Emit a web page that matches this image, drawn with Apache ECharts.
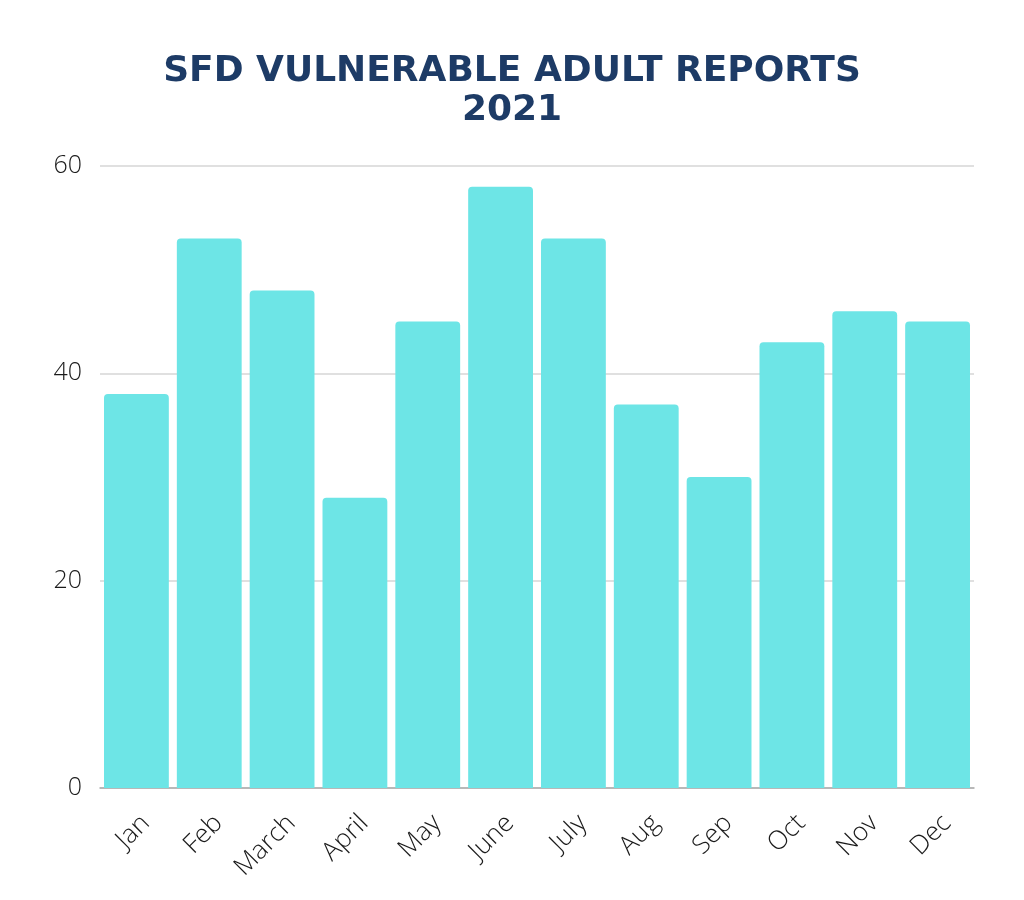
<!DOCTYPE html>
<html><head><meta charset="utf-8">
<script src="https://cdn.jsdelivr.net/npm/echarts@6/dist/echarts.min.js"></script>
<style>html,body{margin:0;padding:0;background:#fff}#c{width:1024px;height:900px}</style>
</head><body><div id="c"></div>
<script>
const categories = ['Jan','Feb','March','April','May','June','July','Aug','Sep','Oct','Nov','Dec'];
const reports = [38,53,48,28,45,58,53,37,30,43,46,45];
const yTicks = [0,20,40,60];

const chart = echarts.init(document.getElementById('c'));
chart.setOption({
  backgroundColor:'#ffffff',
  title:{
    text:'SFD VULNERABLE ADULT REPORTS\n2021',
    left:'center', top:47,
    textStyle:{fontFamily:'DejaVu Sans', fontWeight:'bold', fontSize:36, color:'#1d3b66', lineHeight:39}
  },
  grid:{left:100, right:50, top:166, bottom:112},
  xAxis:{
    type:'category', data:categories,
    axisLine:{lineStyle:{color:'#aaaaaa', width:1.5}},
    axisTick:{show:false},
    axisLabel:{rotate:45, verticalAlign:'top', fontFamily:'Open Sans', fontWeight:300, fontSize:26, color:'#1a1a1a', margin:22}
  },
  yAxis:{
    type:'value', min:yTicks[0], max:yTicks[yTicks.length-1], interval:20,
    axisLine:{show:false}, axisTick:{show:false},
    splitLine:{lineStyle:{color:'#d6d6d6', width:1.5}},
    axisLabel:{fontFamily:'Open Sans', fontWeight:300, fontSize:25, color:'#1a1a1a', margin:18}
  },
  series:[{
    type:'bar', data:reports, barCategoryGap:'11%',
    itemStyle:{color:'#6de5e6', borderRadius:[4,4,0,0]}
  }]
});
</script></body></html>
